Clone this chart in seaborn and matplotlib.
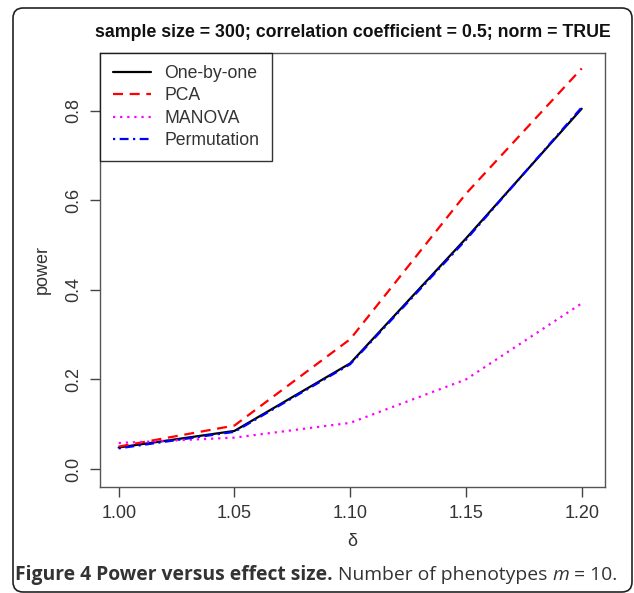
import pandas as pd
import matplotlib.pyplot as plt
import seaborn as sns
from matplotlib.patches import FancyBboxPatch

# effect sizes and power for each method
delta = [1.00, 1.05, 1.10, 1.15, 1.20]
one_by_one = [0.048, 0.085, 0.236, 0.515, 0.805]
pca = [0.050, 0.097, 0.290, 0.615, 0.895]
manova = [0.058, 0.070, 0.103, 0.200, 0.370]
permutation = [0.046, 0.083, 0.234, 0.512, 0.808]

methods = ['One-by-one', 'PCA', 'MANOVA', 'Permutation']
colors = {'One-by-one': 'black', 'PCA': '#ff0000', 'MANOVA': '#ff00ff', 'Permutation': '#0000ff'}
dashes = {'One-by-one': '', 'PCA': (4.5, 3), 'MANOVA': (1, 2.2), 'Permutation': (1, 2, 4, 2)}

df = pd.concat([
    pd.DataFrame({'delta': delta, 'power': vals, 'method': name})
    for name, vals in zip(methods, [one_by_one, pca, manova, permutation])
])

sns.set_theme(style="white")
plt.rcParams['font.family'] = ['Liberation Sans', 'DejaVu Sans']

fig = plt.figure(figsize=(6.34, 5.93), dpi=100)
ax = fig.add_axes([0.158, 0.179, 0.796, 0.732])

sns.lineplot(data=df, x='delta', y='power', hue='method', style='method',
             palette=colors, dashes=dashes, hue_order=methods, style_order=methods,
             linewidth=1.6, ax=ax)

ax.set_xlim(0.992, 1.21)
ax.set_ylim(-0.04, 0.93)
ax.set_xticks(delta)
ax.set_xticklabels(['1.00', '1.05', '1.10', '1.15', '1.20'])
ax.set_yticks([0.0, 0.2, 0.4, 0.6, 0.8])
ax.set_yticklabels(['0.0', '0.2', '0.4', '0.6', '0.8'], rotation=90, va='center')
ax.tick_params(direction='out', length=7, width=1, color='#444444',
               labelsize=13, labelcolor='#333333', pad=6,
               bottom=True, left=True)
for s in ax.spines.values():
    s.set_color('#555555')
    s.set_linewidth(1)

ax.set_xlabel('δ', fontsize=13, color='#333333', labelpad=8)
ax.set_ylabel('power', fontsize=13, color='#333333', labelpad=10)
ax.set_title('sample size = 300; correlation coefficient = 0.5; norm = TRUE',
             fontsize=12.8, fontweight='bold', color='#111111', pad=11)

handles, labels = ax.get_legend_handles_labels()
leg = ax.legend(handles, labels, loc='upper left', borderaxespad=0,
                fancybox=False, edgecolor='black', fontsize=12.7,
                handlelength=2.2, handletextpad=0.75, labelspacing=0.3,
                borderpad=0.7, labelcolor='#333333')
leg.get_frame().set_linewidth(1)

# rounded frame around figure and caption
frame = FancyBboxPatch((13 / 634, 1 / 593), 619 / 634, 584 / 593,
                       boxstyle='round,pad=0,rounding_size=0.016',
                       mutation_aspect=634 / 593,
                       transform=fig.transFigure, fill=False, edgecolor='#222222',
                       linewidth=1.2, clip_on=False)
fig.patches.append(frame)

# caption: bold lead-in then regular text
fig.canvas.draw()
renderer = fig.canvas.get_renderer()
x0, y0 = 15 / 634, 13 / 593
pieces = [('Figure 4 Power versus effect size.', 'bold', 'normal'),
          (' Number of phenotypes ', 'normal', 'normal'),
          ('m', 'normal', 'italic'),
          (' = 10.', 'normal', 'normal')]
x = x0
for txt, weight, style in pieces:
    t = fig.text(x, y0, txt, fontsize=13.85, fontweight=weight, fontstyle=style,
                 family='Open Sans', color='#333333', va='baseline')
    bb = t.get_window_extent(renderer)
    x += bb.width / fig.bbox.width

fig.savefig('out.png', dpi=100)
